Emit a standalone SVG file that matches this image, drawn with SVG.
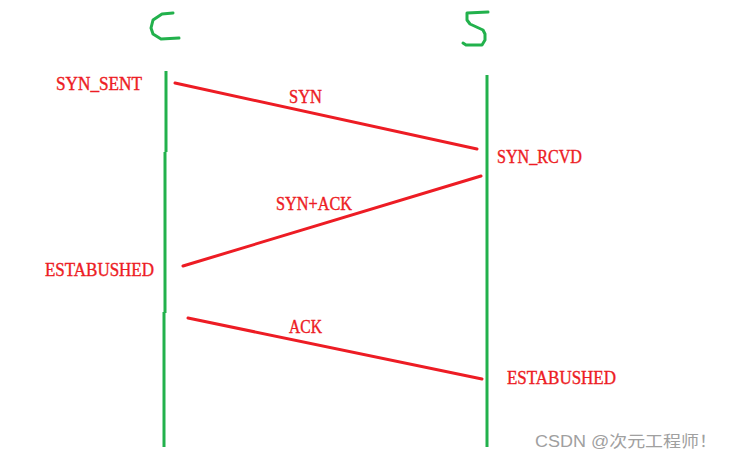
<svg xmlns="http://www.w3.org/2000/svg" width="733" height="460" viewBox="0 0 733 460">
<style>
.g{fill:none;stroke:#22B14C;stroke-width:3;stroke-linejoin:round;stroke-linecap:round}
.v{fill:none;stroke:#22B14C;stroke-width:3}
.r{fill:none;stroke:#ED1C24;stroke-width:3;stroke-linecap:round}
.t{fill:#ED1C24;stroke:#ED1C24;stroke-width:0.4;font-family:"Liberation Serif","Times New Roman",serif;font-size:19px}
.w{fill:#a0a0a0;font-family:"Liberation Sans","Noto Sans CJK SC",sans-serif;font-size:16px}
</style>
<rect width="733" height="460" fill="#fff"/>
<g id="client">
<path class="g" d="M173,13 L162,14 L153,20 L151,28 L153,34 L161,39 L179,38"/>
<path class="v" d="M166,71 V152 M165,152 V313 M164,312 V447"/>
<text class="t" x="56" y="90" textLength="86" lengthAdjust="spacingAndGlyphs">SYN_SENT</text>
<text class="t" x="45" y="276" textLength="109" lengthAdjust="spacingAndGlyphs">ESTABUSHED</text>
</g>
<g id="server">
<path class="g" d="M488,12 L467,13 L467,20 L470,24 L483,30 L485,34 L485,40 L482,45 L466,45 L463,43"/>
<path class="v" d="M487,75 V447"/>
<text class="t" x="497" y="163" textLength="85" lengthAdjust="spacingAndGlyphs">SYN_RCVD</text>
<text class="t" x="507" y="384" textLength="109" lengthAdjust="spacingAndGlyphs">ESTABUSHED</text>
</g>
<g id="connectors">
<line class="r" x1="175" y1="83" x2="477" y2="149"/>
<line class="r" x1="481" y1="176" x2="183" y2="266"/>
<line class="r" x1="188" y1="318" x2="482" y2="379"/>
<text class="t" x="289" y="103" textLength="33" lengthAdjust="spacingAndGlyphs">SYN</text>
<text class="t" x="276" y="210" textLength="76" lengthAdjust="spacingAndGlyphs">SYN+ACK</text>
<text class="t" x="289" y="333" textLength="33" lengthAdjust="spacingAndGlyphs">ACK</text>
</g>
<text class="w" x="535" y="447" textLength="182" lengthAdjust="spacingAndGlyphs">CSDN @次元工程师！</text>
</svg>
